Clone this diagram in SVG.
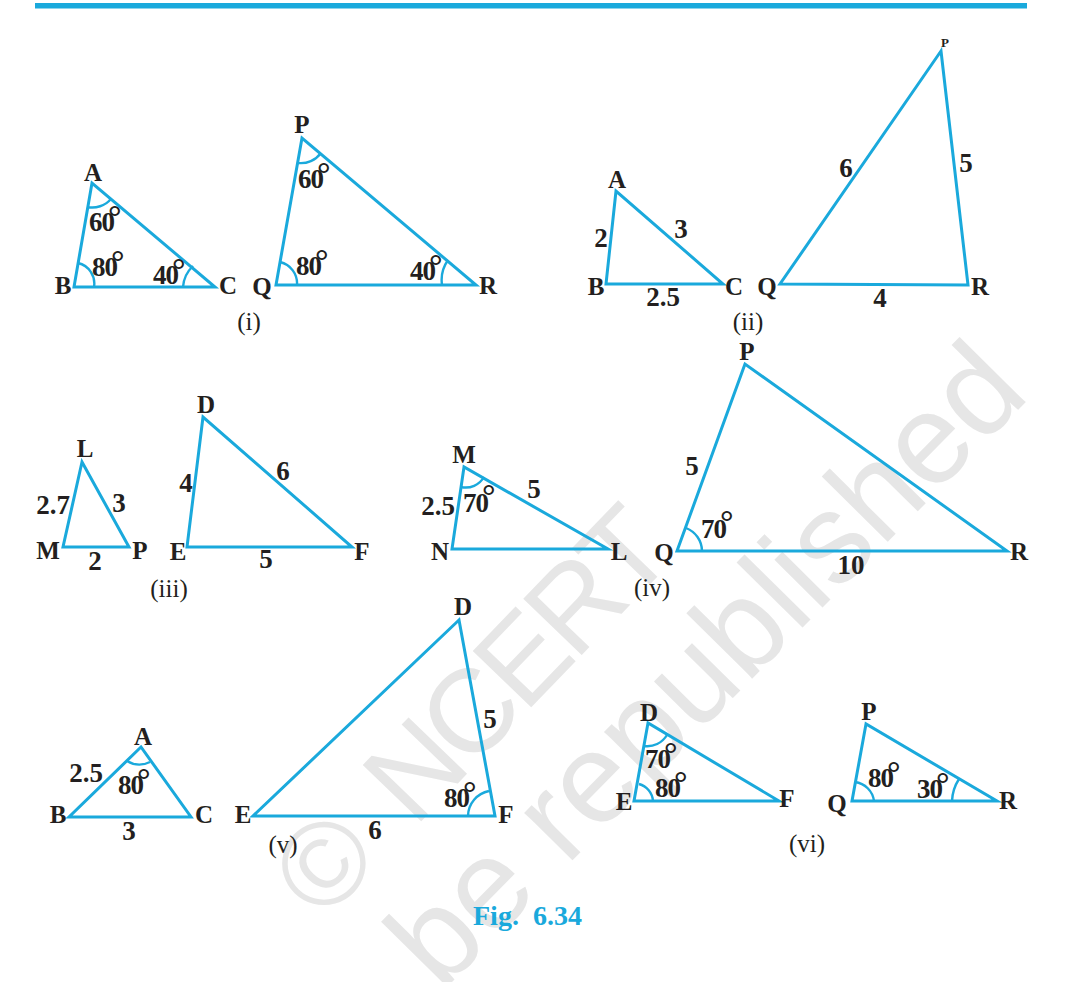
<svg xmlns="http://www.w3.org/2000/svg" width="1065" height="982" viewBox="0 0 1065 982">
<style>
text{font-family:"Liberation Serif","Times New Roman",serif;fill:#231f20}
.b{font-weight:bold;font-size:25px;text-anchor:middle}
.n{font-weight:bold;font-size:27px;text-anchor:middle}
.g{font-weight:bold;font-size:27px;letter-spacing:-1px}
.g tspan{font-size:34px}
.c{font-size:25px;text-anchor:middle}
.t{fill:none;stroke:#1aa9dc;stroke-width:3;stroke-linejoin:miter}
.a{fill:none;stroke:#1aa9dc;stroke-width:2.4}
.w{font-family:"Liberation Sans",Arial,sans-serif;fill:#e6e6e6}
</style>
<rect width="1065" height="982" fill="#fff"/>
<g id="watermark">
<text class="w" style="font-size:118px;letter-spacing:-6px;word-spacing:24px" transform="translate(323 923) rotate(-46)">© NCERT</text>
<text class="w" style="font-size:128px" transform="translate(441 993) rotate(-45.3)">be republished</text>
</g>
<rect id="top-bar" x="35" y="3" width="992" height="5.5" fill="#1aa9dc"/>
<g id="fig-i">
<g id="i-abc">
<path class="t" d="M92 183L74 287H215Z"/>
<path class="a" d="M87 207A25 25 0 0 0 111 199M78 263A21 21 0 0 1 94 287M193 266A32 32 0 0 0 183 287"/>
<text class="b" x="93" y="181">A</text><text class="b" x="63" y="294">B</text><text class="b" x="228" y="294">C</text>
<text class="g" x="89" y="231">60<tspan dx="-6" dy="-3">°</tspan></text>
<text class="g" x="92" y="276">80<tspan dx="-6" dy="-3">°</tspan></text>
<text class="g" x="153" y="284">40<tspan dx="-6" dy="-3">°</tspan></text>
</g>
<g id="i-pqr">
<path class="t" d="M302 138L276 285H476Z"/>
<path class="a" d="M298 163A25 25 0 0 0 321 153M280 262A22 22 0 0 1 297 285M448 260A35 35 0 0 0 442 285"/>
<text class="b" x="302" y="133">P</text><text class="b" x="262" y="295">Q</text><text class="b" x="488" y="294">R</text>
<text class="g" x="298" y="188">60<tspan dx="-6" dy="-3">°</tspan></text>
<text class="g" x="296" y="275">80<tspan dx="-6" dy="-3">°</tspan></text>
<text class="g" x="410" y="280">40<tspan dx="-6" dy="-3">°</tspan></text>
</g>
<text class="c" x="249" y="330">(i)</text>
</g>
<g id="fig-ii">
<g id="ii-abc">
<path class="t" d="M616 191L606 284H723Z"/>
<text class="b" x="617" y="188">A</text><text class="b" x="596" y="295">B</text><text class="b" x="734" y="295">C</text>
<text class="n" x="601" y="247">2</text><text class="n" x="681" y="238">3</text><text class="n" x="663" y="306">2.5</text>
</g>
<g id="ii-pqr">
<path class="t" d="M941 51L780 284L968 285Z"/>
<text class="b" style="font-size:13px" x="945" y="47">P</text><text class="b" x="767" y="295">Q</text><text class="b" x="980" y="295">R</text>
<text class="n" x="846" y="177">6</text><text class="n" x="966" y="172">5</text><text class="n" x="880" y="307">4</text>
</g>
<text class="c" x="748" y="330">(ii)</text>
</g>
<g id="fig-iii">
<g id="iii-lmp">
<path class="t" d="M82 462L63 547H129Z"/>
<text class="b" x="85" y="457">L</text><text class="b" x="48" y="559">M</text><text class="b" x="140" y="559">P</text>
<text class="n" x="53" y="514">2.7</text><text class="n" x="119" y="512">3</text><text class="n" x="95" y="570">2</text>
</g>
<g id="iii-def">
<path class="t" d="M203 417L187 547H352Z"/>
<text class="b" x="206" y="413">D</text><text class="b" x="178" y="560">E</text><text class="b" x="362" y="560">F</text>
<text class="n" x="186" y="492">4</text><text class="n" x="283" y="480">6</text><text class="n" x="266" y="568">5</text>
</g>
<text class="c" x="169" y="597">(iii)</text>
</g>
<g id="fig-iv">
<g id="iv-mnl">
<path class="t" d="M464 467L452 549H608Z"/>
<path class="a" d="M461 487A21 21 0 0 0 484 477"/>
<text class="b" x="464" y="463">M</text><text class="b" x="440" y="560">N</text><text class="b" x="619" y="560">L</text>
<text class="n" x="534" y="498">5</text><text class="n" x="438" y="515">2.5</text>
<text class="g" x="463" y="512">70<tspan dx="-6" dy="-5">°</tspan></text>
</g>
<g id="iv-pqr">
<path class="t" d="M745 364L677 551H1007Z"/>
<path class="a" d="M686 528A25 25 0 0 1 702 551"/>
<text class="b" x="747" y="360">P</text><text class="b" x="664" y="561">Q</text><text class="b" x="1019" y="560">R</text>
<text class="n" x="692" y="475">5</text><text class="n" x="851" y="574">10</text>
<text class="g" x="701" y="538">70<tspan dx="-6" dy="-5">°</tspan></text>
</g>
<text class="c" x="652" y="596">(iv)</text>
</g>
<g id="fig-v">
<g id="v-abc">
<path class="t" d="M141 747L69 817H191Z"/>
<path class="a" d="M127 761A24 24 0 0 0 150 762"/>
<text class="b" x="143" y="745">A</text><text class="b" x="58" y="823">B</text><text class="b" x="204" y="823">C</text>
<text class="n" x="86" y="782">2.5</text><text class="n" x="129" y="840">3</text>
<text class="g" x="118" y="794">80<tspan dx="-6" dy="-3">°</tspan></text>
</g>
<g id="v-def">
<path class="t" d="M459 620L253 816H495Z"/>
<path class="a" d="M489 791A26 26 0 0 0 468 816"/>
<text class="b" x="463" y="615">D</text><text class="b" x="243" y="823">E</text><text class="b" x="506" y="823">F</text>
<text class="n" x="490" y="728">5</text><text class="n" x="375" y="839">6</text>
<text class="g" x="444" y="807">80<tspan dx="-6" dy="-3">°</tspan></text>
</g>
<text class="c" x="283" y="853">(v)</text>
</g>
<g id="fig-vi">
<g id="vi-def">
<path class="t" d="M648 723L634 801H779Z"/>
<path class="a" d="M644 746A23 23 0 0 0 667 735M639 784A19 19 0 0 1 653 801"/>
<text class="b" x="649" y="721">D</text><text class="b" x="624" y="810">E</text><text class="b" x="787" y="807">F</text>
<text class="g" x="645" y="768">70<tspan dx="-6" dy="-3">°</tspan></text>
<text class="g" x="655" y="797">80<tspan dx="-6" dy="-3">°</tspan></text>
</g>
<g id="vi-pqr">
<path class="t" d="M866 724L852 801H997Z"/>
<path class="a" d="M855 782A22 22 0 0 1 874 801M959 779A44 44 0 0 0 952 801"/>
<text class="b" x="869" y="720">P</text><text class="b" x="837" y="812">Q</text><text class="b" x="1008" y="809">R</text>
<text class="g" x="868" y="787">80<tspan dx="-6" dy="-3">°</tspan></text>
<text class="g" x="917" y="798">30<tspan dx="-6" dy="-3">°</tspan></text>
</g>
<text class="c" x="807" y="852">(vi)</text>
</g>
<text id="caption" x="473" y="925" style="font-weight:bold;font-size:28px;fill:#1aa9dc" xml:space="preserve">Fig.  6.34</text>
</svg>
